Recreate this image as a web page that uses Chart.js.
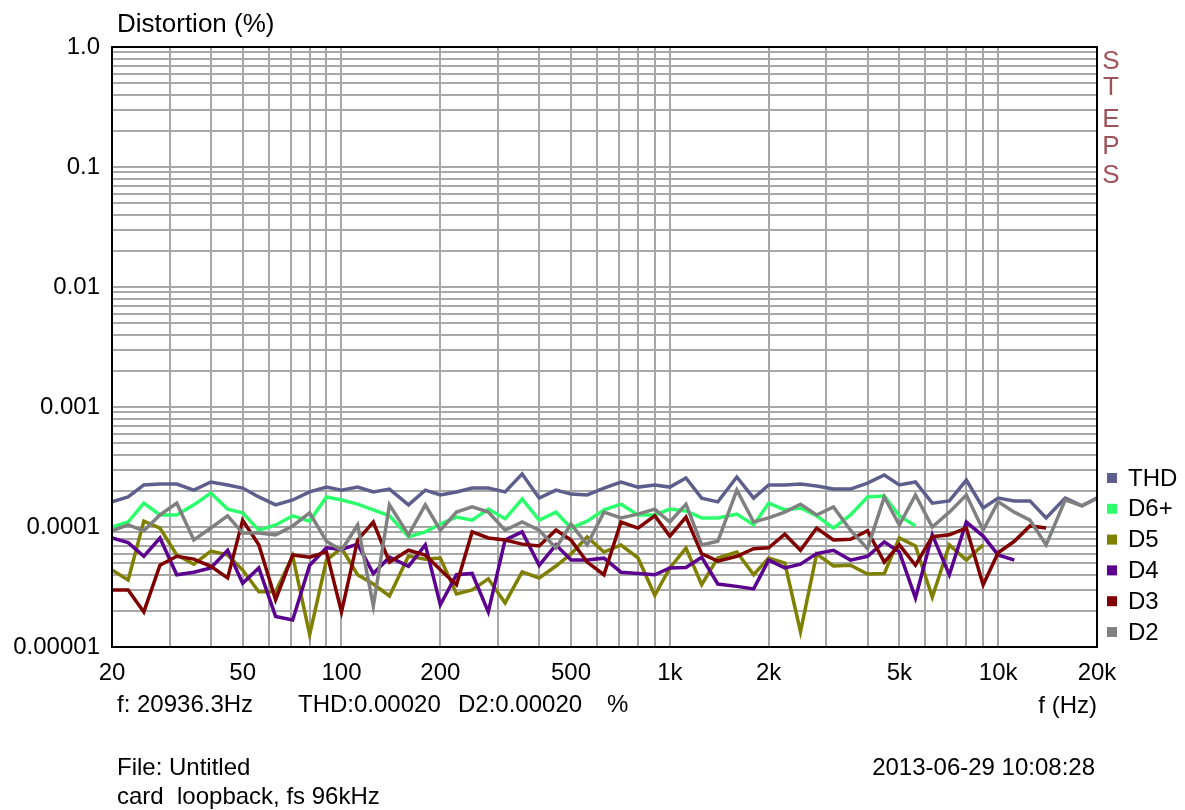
<!DOCTYPE html>
<html>
<head>
<meta charset="utf-8">
<script src="https://cdn.jsdelivr.net/npm/chart.js@4/dist/chart.umd.min.js"></script>
<style>
  html, body { margin: 0; padding: 0; background: #fff; }
  #wrap { width: 1185px; height: 810px; }
</style>
</head>
<body>
<div id="wrap"><canvas id="chart" width="1185" height="810"></canvas></div>
<script>
// frequencies (Hz), 1/20 decade steps
const freqs = [20, 22.4, 25, 28, 31.5, 35.5, 40, 45, 50, 56, 63, 71, 80, 90, 100, 112, 125, 140, 160, 180,
  200, 224, 250, 280, 315, 355, 400, 450, 500, 560, 630, 710, 800, 900, 1000, 1120, 1250, 1400, 1600, 1800,
  2000, 2240, 2500, 2800, 3150, 3550, 4000, 4500, 5000, 5600, 6300, 7100, 8000, 9000, 10000, 11200, 12500,
  14000, 16000, 18000, 20000];

// distortion values, in units of 0.0001 %
const UNIT = 1e-4;
const thd = [1.62, 1.78, 2.24, 2.28, 2.28, 2.03, 2.37, 2.24, 2.11, 1.78, 1.53, 1.68, 1.96, 2.15, 2.03, 2.15, 1.96, 2.07, 1.53, 2.03,
  1.85, 1.96, 2.11, 2.11, 1.96, 2.77, 1.74, 2.03, 1.88, 1.85, 2.11, 2.37, 2.15, 2.24, 2.15, 2.56, 1.74, 1.62, 2.61, 1.74,
  2.24, 2.24, 2.28, 2.20, 2.07, 2.07, 2.32, 2.71, 2.24, 2.37, 1.58, 1.65, 2.46, 1.44, 1.74, 1.65, 1.65, 1.19, 1.74, 1.50, 1.74];
const d6plus = [1.0, 1.10, 1.58, 1.26, 1.26, 1.53, 1.92, 1.41, 1.31, 0.94, 1.04, 1.24, 1.12, 1.78, 1.68, 1.55, 1.39, 1.24, 0.83, 0.91,
  1.06, 1.21, 1.14, 1.41, 1.17, 1.71, 1.14, 1.33, 0.98, 1.12, 1.39, 1.55, 1.26, 1.26, 1.41, 1.36, 1.19, 1.19, 1.28, 1.04,
  1.58, 1.39, 1.44, 1.24, 0.98, 1.26, 1.78, 1.81, 1.24, 1.02];
const d5 = [0.438, 0.362, 1.12, 0.98, 0.585, 0.49, 0.63, 0.585, 0.438, 0.288, 0.288, 0.574, 0.127, 0.53, 0.668, 0.40, 0.335, 0.266, 0.574, 0.54,
  0.552, 0.277, 0.299, 0.37, 0.233, 0.422, 0.376, 0.473, 0.596, 0.825, 0.619, 0.708, 0.552, 0.27, 0.456, 0.668, 0.33, 0.552, 0.619, 0.40,
  0.552, 0.50, 0.134, 0.596, 0.473, 0.48, 0.406, 0.41, 0.81, 0.695, 0.26, 0.71, 0.53, 0.71];
const d4 = [0.81, 0.74, 0.57, 0.81, 0.40, 0.42, 0.456, 0.64, 0.34, 0.456, 0.18, 0.168, 0.48, 0.67, 0.65, 0.72, 0.41, 0.56, 0.47, 0.71,
  0.225, 0.40, 0.41, 0.196, 0.78, 0.91, 0.48, 0.71, 0.53, 0.53, 0.55, 0.42, 0.41, 0.40, 0.456, 0.46, 0.56, 0.335, 0.32, 0.305,
  0.53, 0.456, 0.49, 0.60, 0.64, 0.53, 0.57, 0.75, 0.62, 0.256, 0.86, 0.40, 1.10, 0.84, 0.585, 0.53];
const d3 = [0.299, 0.299, 0.196, 0.48, 0.57, 0.54, 0.47, 0.376, 1.14, 0.71, 0.247, 0.585, 0.56, 0.62, 0.196, 0.78, 1.10, 0.51, 0.64, 0.585,
  0.44, 0.33, 0.91, 0.81, 0.78, 0.72, 0.695, 0.944, 0.78, 0.51, 0.40, 1.10, 0.98, 1.24, 0.84, 1.21, 0.60, 0.52, 0.57, 0.66,
  0.67, 0.87, 0.64, 0.98, 0.78, 0.79, 0.93, 0.51, 0.71, 0.48, 0.83, 0.86, 0.98, 0.33, 0.61, 0.76, 1.02, 0.98];
const d2 = [0.93, 1.04, 0.93, 1.26, 1.58, 0.78, 0.98, 1.24, 0.89, 0.89, 0.86, 1.02, 1.31, 0.76, 0.64, 1.04, 0.22, 1.53, 0.86, 1.53,
  0.94, 1.33, 1.47, 1.33, 0.94, 1.10, 0.94, 0.67, 1.06, 0.71, 1.33, 1.19, 1.28, 1.41, 1.10, 1.55, 0.71, 0.76, 2.03, 1.10,
  1.19, 1.33, 1.55, 1.26, 1.47, 0.94, 0.66, 1.78, 1.04, 1.85, 1.0, 1.33, 1.85, 0.94, 1.62, 1.33, 1.14, 0.71, 1.68, 1.50, 1.74];

const seriesNames = ["THD", "D6+", "D5", "D4", "D3", "D2"];
const seriesValues = [thd, d6plus, d5, d4, d3, d2];
const seriesColors = ["#5e5e8c", "#2cff6c", "#808000", "#5c0090", "#800000", "#808080"];

// axis labels
const xTickValues = [20, 50, 100, 200, 500, 1000, 2000, 5000, 10000, 20000];
const xTickLabels = ["20", "50", "100", "200", "500", "1k", "2k", "5k", "10k", "20k"];
const yTickLabels = ["0.00001", "0.0001", "0.001", "0.01", "0.1", "1.0"];

const FONT = '"Liberation Sans", Arial, sans-serif';

const toPoints = (vals) => vals.map((v, i) => ({ x: freqs[i], y: v * UNIT }));

const buildSets = () => {
  const sets = [];
  seriesNames.forEach((name, i) => {
    sets.push({
      label: name,
      data: toPoints(seriesValues[i]),
      borderColor: seriesColors[i],
      backgroundColor: seriesColors[i],
      borderWidth: 3.5,
      pointRadius: 0,
      tension: 0,
      fill: false,
      order: seriesNames.length - i,
    });
  });
  return sets;
};

// grid lines at 1..9 of each decade
const xGrid = () => {
  const vals = [];
  for (let m = 2; m <= 9; m++) vals.push(m * 10);
  for (let m = 1; m <= 9; m++) vals.push(m * 100);
  for (let m = 1; m <= 9; m++) vals.push(m * 1000);
  vals.push(10000, 20000);
  return vals.map((v) => ({ value: v }));
};

const yGrid = () => {
  const vals = [];
  for (let e = -5; e < 0; e++) {
    for (let m = 1; m <= 9; m++) vals.push(m * Math.pow(10, e));
  }
  vals.push(1);
  return vals.map((v) => ({ value: v }));
};

const overlay = {
  id: "overlay",
  afterDraw(chart) {
    const ctx = chart.ctx;
    const a = chart.chartArea;
    ctx.save();
    // frame
    ctx.strokeStyle = "#000";
    ctx.lineWidth = 2;
    ctx.strokeRect(a.left, a.top, a.right - a.left, a.bottom - a.top);

    ctx.fillStyle = "#000";
    ctx.textBaseline = "middle";
    ctx.textAlign = "left";
    ctx.font = "26px " + FONT;
    ctx.fillText("Distortion (%)", 117, 25);
    ctx.font = "24px " + FONT;
    ctx.fillText("f: 20936.3Hz", 117, 705);
    ctx.fillText("THD:0.00020", 298, 705);
    ctx.fillText("D2:0.00020", 458, 705);
    ctx.fillText("%", 607, 705);
    ctx.fillText("File: Untitled", 117, 768);
    ctx.fillText("card  loopback, fs 96kHz", 117, 797);
    ctx.textAlign = "right";
    ctx.fillText("f (Hz)", 1097, 706);
    ctx.fillText("2013-06-29 10:08:28", 1095, 768);

    // STEPS
    ctx.fillStyle = "#a0525a";
    ctx.font = "26px " + FONT;
    ctx.textAlign = "center";
    const stepY = [62, 88, 120, 147, 176];
    "STEPS".split("").forEach((ch, i) => ctx.fillText(ch, 1111, stepY[i]));

    // legend
    ctx.font = "24px " + FONT;
    ctx.textAlign = "left";
    seriesNames.forEach((name, i) => {
      const y = 478 + i * 30.8;
      ctx.fillStyle = seriesColors[i];
      ctx.fillRect(1107, y - 5, 10, 10);
      ctx.fillStyle = "#000";
      ctx.fillText(name, 1128, y + 1);
    });
    ctx.restore();
  },
};

const ctx = document.getElementById("chart").getContext("2d");
new Chart(ctx, {
  type: "line",
  data: { datasets: buildSets() },
  plugins: [overlay],
  options: {
    responsive: false,
    animation: false,
    devicePixelRatio: 1,
    layout: { padding: { left: 0, top: 47, right: 88, bottom: 123 } },
    plugins: { legend: { display: false }, tooltip: { enabled: false } },
    scales: {
      x: {
        type: "logarithmic",
        min: 20,
        max: 20000,
        afterBuildTicks: (scale) => { scale.ticks = xGrid(); },
        afterFit: (scale) => { scale.height = 40; },
        grid: { color: "#a8a8a8", lineWidth: 2, drawTicks: false },
        border: { display: false },
        ticks: {
          autoSkip: false,
          maxRotation: 0,
          minRotation: 0,
          padding: 12,
          color: "#000",
          font: { family: FONT, size: 24 },
          callback: (value) => {
            const k = xTickValues.indexOf(value);
            return k >= 0 ? xTickLabels[k] : "";
          },
        },
      },
      y: {
        type: "logarithmic",
        min: 0.00001,
        max: 1,
        afterBuildTicks: (scale) => { scale.ticks = yGrid(); },
        afterFit: (scale) => { scale.width = 112; },
        grid: { color: "#a8a8a8", lineWidth: 2, drawTicks: false },
        border: { display: false },
        ticks: {
          autoSkip: false,
          padding: 12,
          color: "#000",
          font: { family: FONT, size: 24 },
          callback: (value) => {
            const e = Math.log10(value);
            if (Math.abs(e - Math.round(e)) > 1e-9) return "";
            return yTickLabels[Math.round(e) + 5];
          },
        },
      },
    },
  },
});
</script>
</body>
</html>
